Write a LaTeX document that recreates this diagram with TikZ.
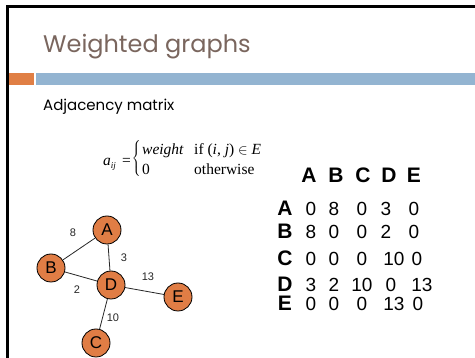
\documentclass[tikz,border=0pt]{standalone}
\usepackage{amsmath}
\usepackage{fontspec}
\setmainfont{Liberation Serif}
\newfontfamily\titlefont{Poppins}
\newfontfamily\arialfont{Liberation Sans}
\definecolor{titlec}{HTML}{7A665E}
\definecolor{orangec}{HTML}{E07F45}
\definecolor{bluec}{HTML}{93B4D1}
\definecolor{nodec}{HTML}{E07D45}
\begin{document}
\begin{tikzpicture}[x=1pt,y=-1pt,
  vtx/.style={circle,draw=black,line width=0.8pt,fill=nodec,minimum size=28pt,inner sep=0pt,font=\arialfont\fontsize{17}{17}\selectfont},
  edge/.style={draw=black!85,line width=0.8pt},
  elab/.style={font=\arialfont\fontsize{11}{11}\selectfont,text=black!85},
  hdr/.style={font=\arialfont\bfseries\fontsize{21}{21}\selectfont,anchor=base},
  val/.style={font=\arialfont\fontsize{19}{19}\selectfont,anchor=base},
  ftxt/.style={inner sep=0pt,anchor=base west,font=\fontsize{15.5}{15.5}\selectfont}]
\useasboundingbox (0,0) rectangle (475,358);
\fill[white] (0,0) rectangle (475,358);
% slide border
\fill[black] (6,5) rectangle (475,8);
\fill[black] (6,5) rectangle (9,358);
% title
\node[anchor=base west,inner sep=0pt,text=titlec,font=\titlefont\fontsize{24}{24}\selectfont] (title) at (43,53) {Weighted graphs};
% bars
\fill[orangec] (9,73) rectangle (34,85);
\fill[bluec] (36,73) rectangle (475,85);
\node[anchor=base west,inner sep=0pt,font=\titlefont\fontsize{15}{15}\selectfont] (sub) at (43,111) {Adjacency matrix};
% formula
\node[ftxt] (aij) at (103,166) {\itshape a\raisebox{-3pt}{\fontsize{9}{9}\selectfont ij}};
\node[ftxt] (eq) at (122,166) {=};
\node[inner sep=0pt,anchor=center] (brace) at (137,159) {$\left\{\rule{0pt}{20pt}\right.$};
\node[ftxt] (w) at (142,155) {\itshape weight};
\node[ftxt] (cond) at (194,155) {if (\textit{i}, \textit{j}) $\in$ \textit{E}};
\node[ftxt] (zero) at (142,175) {0};
\node[ftxt] (oth) at (194,175) {otherwise};
% graph
\node[vtx] (A) at (107,230) {A};
\node[vtx] (B) at (51,268) {B};
\node[vtx] (D) at (111,285) {D};
\node[vtx] (E) at (178,297) {E};
\node[vtx] (C) at (96,343) {C};
\draw[edge] (A) -- (B);
\draw[edge] (A) -- (D);
\draw[edge] (B) -- (D);
\draw[edge] (D) -- (E);
\draw[edge] (D) -- (C);
\node[elab] (l8) at (73,233) {8};
\node[elab] (l3) at (124,258) {3};
\node[elab] (l13) at (148,277) {13};
\node[elab] (l2) at (77,290) {2};
\node[elab] (l10) at (113,318) {10};
% matrix header
\node[hdr] (hA) at (309,183) {A};
\node[hdr] (hB) at (336,183) {B};
\node[hdr] (hC) at (363,183) {C};
\node[hdr] (hD) at (389,183) {D};
\node[hdr] (hE) at (414,183) {E};
% rows
\foreach \r/\y/\a/\b/\c/\d/\xd/\e/\xe in {A/216/0/8/0/3/386/0/414, B/239/8/0/0/2/386/0/414, C/266/0/0/0/10/394/0/417, D/292/3/2/10/0/391/13/422, E/311/0/0/0/13/394/0/418}{
  \node[hdr] (r\r) at (285,\y) {\r};
  \node[val] (v\r1) at (311,\y) {\a};
  \node[val] (v\r2) at (334,\y) {\b};
  \node[val] (v\r3) at (362,\y) {\c};
  \node[val] (v\r4) at (\xd,\y) {\d};
  \node[val] (v\r5) at (\xe,\y) {\e};
}
\end{tikzpicture}
\end{document}
